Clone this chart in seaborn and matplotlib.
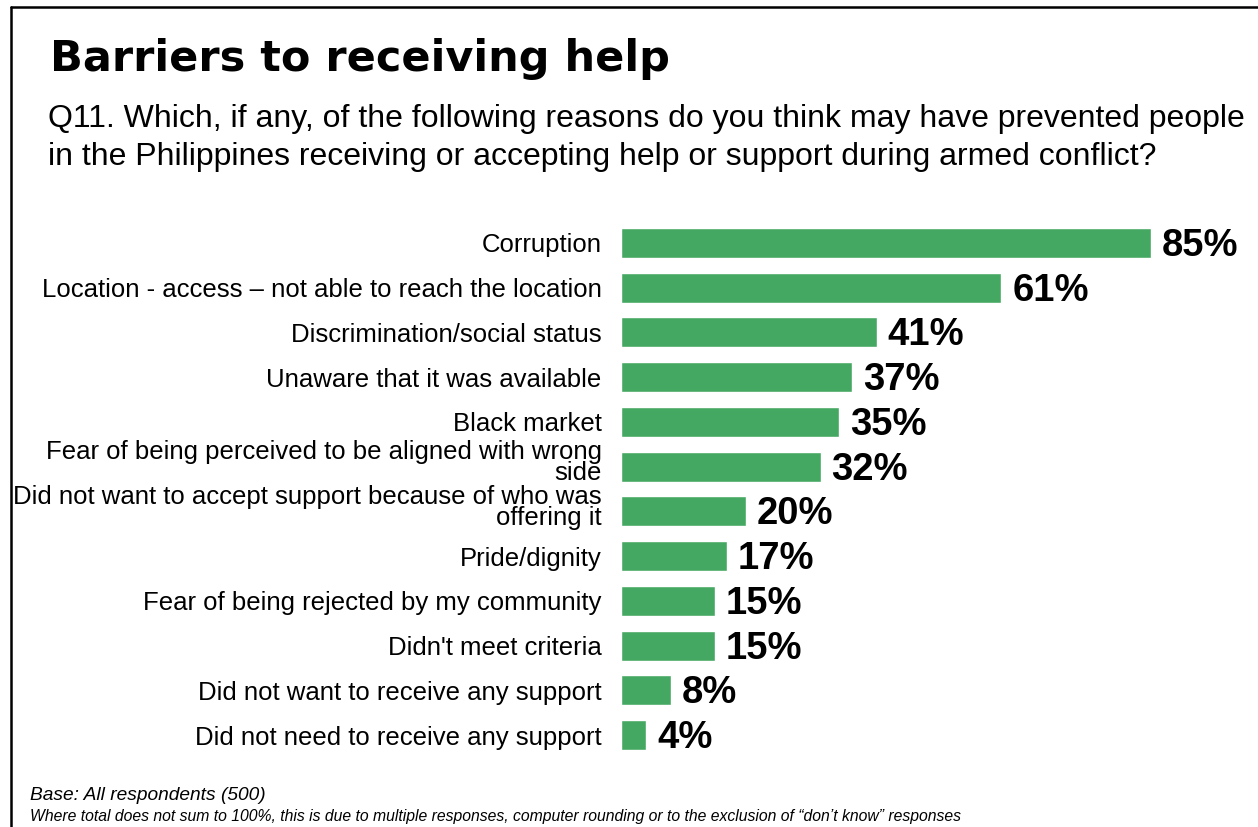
import matplotlib
matplotlib.use("Agg")
import matplotlib.pyplot as plt
import matplotlib.transforms as mtransforms
import seaborn as sns
import pandas as pd
from matplotlib.lines import Line2D

categories = [
    "Corruption",
    "Location - access \u2013 not able to reach the location",
    "Discrimination/social status",
    "Unaware that it was available",
    "Black market",
    "Fear of being perceived to be aligned with wrong\nside",
    "Did not want to accept support because of who was\noffering it",
    "Pride/dignity",
    "Fear of being rejected by my community",
    "Didn't meet criteria",
    "Did not want to receive any support",
    "Did not need to receive any support",
]
values = [85, 61, 41, 37, 35, 32, 20, 17, 15, 15, 8, 4]

title = "Barriers to receiving help"
subtitle = ("Q11. Which, if any, of the following reasons do you think may have prevented people\n"
            "in the Philippines receiving or accepting help or support during armed conflict?")
foot1 = "Base: All respondents (500)"
foot2 = ("Where total does not sum to 100%, this is due to multiple responses, computer rounding "
         "or to the exclusion of \u201cdon\u2019t know\u201d responses")

df = pd.DataFrame({"category": categories, "value": values})

sns.set_theme(style="white")
plt.rcParams["font.family"] = ["Liberation Sans", "DejaVu Sans"]

W, H = 1258, 827
fig = plt.figure(figsize=(W / 100, H / 100), dpi=100)
fig.patch.set_facecolor("white")

top_px, bot_px = 220.6, 757.4
left_px = 621
ax = fig.add_axes([left_px / W, 1 - bot_px / H, 623.5 / W, (bot_px - top_px) / H])

sns.barplot(data=df, x="value", y="category", orient="h", color="#45A862",
            saturation=1, width=0.67, ax=ax)
ax.set_xlim(0, 100)
ax.set_ylim(11.5, -0.5)
ax.set_xlabel("")
ax.set_ylabel("")
ax.set_xticks([])
for s in ax.spines.values():
    s.set_visible(False)
ax.tick_params(axis="y", length=0, pad=14)
shift_up = mtransforms.ScaledTranslation(0, 5 / 100, fig.dpi_scale_trans)
for lab in ax.get_yticklabels():
    lab.set_fontsize(18.5)
    lab.set_color("black")
    lab.set_linespacing(0.85)
    lab.set_horizontalalignment("right")
    lab.set_multialignment("right")
    if "\n" in lab.get_text():
        lab.set_transform(lab.get_transform() + shift_up)

for c in ax.containers:
    texts = ax.bar_label(c, fmt="%d%%", padding=8, fontsize=27.5, fontweight="bold",
                         color="black")
    for t in texts:
        t.xyann = (8, -2.2)

fig.text(50 / W, 1 - 59 / H, title, fontsize=31, fontweight="heavy",
         family=["DejaVu Sans"], va="center", ha="left", color="black")
fig.text(48 / W, 1 - 104 / H, subtitle, fontsize=23, va="top", ha="left",
         color="black", linespacing=1.33)
fig.text(30 / W, 1 - 795 / H, foot1, fontsize=13.8, style="italic", va="center", ha="left",
         color="black")
fig.text(30 / W, 1 - 817 / H, foot2, fontsize=11.3, style="italic", va="center", ha="left",
         color="black")

fig.add_artist(Line2D([11 / W, 1], [1 - 7 / H, 1 - 7 / H], color="black", lw=1.8,
                      transform=fig.transFigure))
fig.add_artist(Line2D([11 / W, 11 / W], [0, 1 - 7 / H], color="black", lw=1.8,
                      transform=fig.transFigure))

fig.savefig("out.png", dpi=100, facecolor="white")
